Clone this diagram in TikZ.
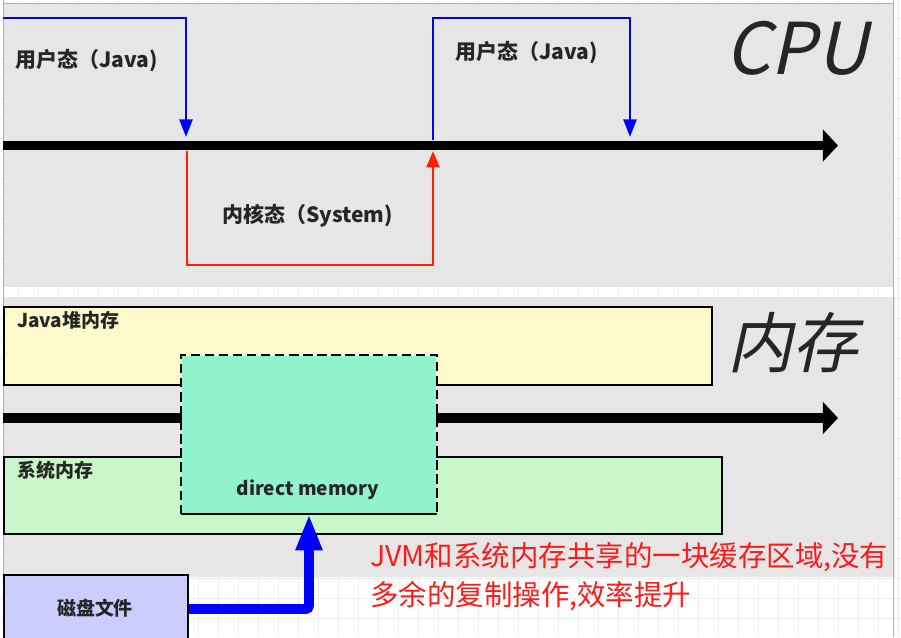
\documentclass[tikz,border=0pt]{standalone}
\usepackage{fontspec}
\setmainfont{Noto Sans CJK SC}
\newfontfamily\slantcjk{Noto Sans CJK SC}[FakeSlant=0.22]
\usetikzlibrary{arrows.meta}
\newcommand\pxu{0.03cm}
\definecolor{panelgray}{HTML}{E6E6E6}
\definecolor{gridgray}{HTML}{ECECEC}
\definecolor{selrose}{HTML}{C9A6A6}
\definecolor{heapyellow}{HTML}{FFFACB}
\definecolor{sysgreen}{HTML}{C9F7C9}
\definecolor{directmint}{HTML}{92F2CE}
\definecolor{disklilac}{HTML}{CCCCFF}
\definecolor{txtgray}{HTML}{262626}
\definecolor{userblue}{HTML}{0000FF}
\definecolor{kernred}{HTML}{FF2000}
\definecolor{notered}{HTML}{FF1A1A}
\begin{document}
\begin{tikzpicture}[x=\pxu,y=-\pxu]
    % Define styles for shapes
    \tikzstyle{panel} = [fill=panelgray, inner sep=0pt, anchor=north west]
    \tikzstyle{membox} = [draw=black, line width=1.7pt, inner sep=0pt, anchor=north west]
    \tikzstyle{gridline} = [draw=gridgray, line width=0.6pt]
    \tikzstyle{statelbl} = [text=txtgray, inner sep=0pt, font=\bfseries\fontsize{17.9}{20}\selectfont]
    \tikzstyle{boxlbl} = [text=txtgray, inner sep=0pt, font=\bfseries\fontsize{16.2}{18}\selectfont]
    \tikzstyle{biglbl} = [text=txtgray, inner sep=0pt, anchor=base west]
    \tikzstyle{timeline} = [line width=8.5pt, -{Triangle[width=27pt,length=13pt]}]
    \tikzstyle{userline} = [draw=userblue, line width=2.3pt, -{Triangle[width=11pt,length=15pt]}]
    \tikzstyle{kernline} = [draw=kernred, line width=2.3pt, -{Triangle[width=11pt,length=14pt]}]

    \useasboundingbox (0,0) rectangle (901,637);
    \fill[white] (0,0) rectangle (901,637);
    \foreach \gx in {18,38,...,898} \draw[gridline] (\gx,0) -- (\gx,637);
    \foreach \gy in {18,38,...,638} \draw[gridline] (0,\gy) -- (901,\gy);

    % Draw the two panels
    \node[panel, minimum width=890*\pxu, minimum height=284*\pxu] (cpupanel) at (3,3) {};
    \node[panel, minimum width=892*\pxu, minimum height=280*\pxu] (mempanel) at (3,297) {};
    \draw[selrose, line width=0.6pt] (3,0) -- (3,637);
    \draw[selrose, line width=0.6pt] (893,0) -- (893,637);
    \draw[selrose, line width=0.6pt] (3,3) -- (893,3);

    % CPU time line with user and kernel states
    \coordinate (cpuL) at (3,145.5);
    \coordinate (cpuR) at (838,145.5);
    \draw[timeline] (cpuL) -- (cpuR);

    \coordinate (userAs) at (3,18);
    \coordinate (userAt) at (186,137);
    \draw[userline] (userAs) -| (userAt);

    \coordinate (kernS) at (187,151);
    \coordinate (kernB) at (433,265);
    \coordinate (kernT) at (433,151);
    \draw[kernline] (kernS) |- (kernB) -- (kernT);

    \coordinate (userBs) at (433,140);
    \coordinate (userBc) at (630,18);
    \coordinate (userBt) at (630,137);
    \draw[userline] (userBs) |- (userBc) -- (userBt);

    \node[statelbl, anchor=west] (userA) at (15,61) {用户态（Java)};
    \node[statelbl, anchor=west] (userB) at (455,53) {用户态（Java)};
    \node[statelbl, anchor=west] (kern) at (222,216) {内核态（System)};
    \node[biglbl, font=\slantcjk\fontsize{61}{64}\selectfont] (cpu) at (725,74) {CPU};

    % Memory regions
    \node[membox, fill=heapyellow, minimum width=708*\pxu, minimum height=78*\pxu] (heap) at (3,306) {};
    \node[boxlbl, anchor=west] (heaplbl) at (17,320) {Java堆内存};

    \coordinate (memL) at (3,418);
    \coordinate (memR) at (838,418);
    \draw[timeline] (memL) -- (memR);

    \node[membox, fill=sysgreen, minimum width=718*\pxu, minimum height=77*\pxu] (sysmem) at (3,456) {};
    \node[boxlbl, anchor=west] (syslbl) at (17,470) {系统内存};

    \node[membox, draw=none, fill=directmint, minimum width=254*\pxu, minimum height=157*\pxu] (direct) at (181,355) {};
    \draw[line width=1.7pt, dash pattern=on 8pt off 4pt] (direct.south west) |- (direct.north east) -- (direct.south east);
    \draw[line width=1.7pt] (direct.south west) -- (direct.south east);
    \node[boxlbl] (directlbl) at (308,490) {direct memory};

    \node[membox, fill=disklilac, minimum width=184*\pxu, minimum height=68*\pxu] (disk) at (3,574) {};
    \node[boxlbl] (disklbl) at (95,608) {磁盘文件};

    % Draw the thick arrow from the disk file to direct memory
    \draw[userblue, line width=8.5pt, rounded corners=3pt, -{Triangle[width=21pt,length=31pt]}] (disk.east) -| (direct.south);

    \node[biglbl, font=\slantcjk\fontsize{56}{60}\selectfont] (mem) at (727,367) {内存};
    \node[text=notered, inner sep=0pt, anchor=west, align=left, font=\fontsize{24.3}{33.2}\selectfont] (note) at (370,576.5) {JVM和系统内存共享的一块缓存区域,没有\\多余的复制操作,效率提升};

\end{tikzpicture}
\end{document}
